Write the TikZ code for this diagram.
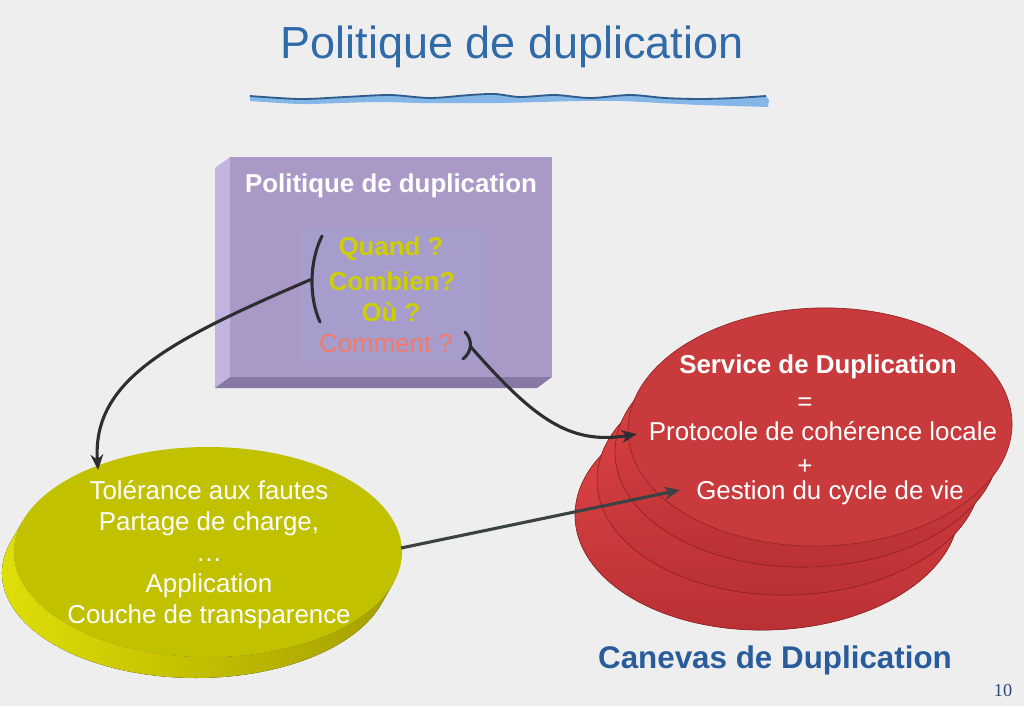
\documentclass[tikz,border=0pt]{standalone}
\usepackage{fontspec}
\setmainfont{Liberation Sans}
\newfontfamily\serifnum{Liberation Serif}
\usetikzlibrary{shapes.geometric,arrows.meta,calc}

\definecolor{bgc}{RGB}{238,238,238}
\definecolor{titleblue}{RGB}{47,107,168}
\definecolor{canblue}{RGB}{40,92,155}
\definecolor{numblue}{RGB}{40,70,120}
\definecolor{boxfront}{RGB}{170,152,198}
\definecolor{boxleft}{RGB}{194,180,224}
\definecolor{boxbottom}{RGB}{135,120,165}
\definecolor{boxinner}{RGB}{166,157,204}
\definecolor{qyellow}{RGB}{206,206,0}
\definecolor{qsalmon}{RGB}{242,122,102}
\definecolor{ytop}{RGB}{193,193,0}
\definecolor{ylight}{RGB}{226,226,10}
\definecolor{ymid}{RGB}{196,192,0}
\definecolor{ydark}{RGB}{165,160,0}
\definecolor{rtop}{RGB}{200,58,60}
\definecolor{rlight}{RGB}{230,72,72}
\definecolor{rdark}{RGB}{185,48,52}
\definecolor{redge}{RGB}{150,38,40}
\definecolor{arrowc}{RGB}{45,45,50}
\definecolor{arrowd}{RGB}{58,66,68}
\definecolor{wavelight}{RGB}{132,182,232}
\definecolor{wavedark}{RGB}{48,92,140}

\begin{document}
\begin{tikzpicture}[x=0.025cm,y=-0.025cm,
  txt/.style={text=white, font=\fontsize{18.4}{22.2}\selectfont, align=center, inner sep=0pt},
  btxt/.style={text=white, font=\bfseries\fontsize{18.4}{22.2}\selectfont, align=center, inner sep=0pt},
  conn/.style={draw=arrowc, line width=2.2pt, -{Stealth[length=11pt,width=9pt]}},
  brack/.style={draw=arrowc, line width=2.2pt, line cap=round},
  redlayer/.style={top color=rlight, bottom color=rdark, draw=redge, line width=0.5pt}]

% background
\fill[bgc] (0,0) rectangle (1024,706);
\useasboundingbox (0,0) rectangle (1024,706);

% title
\node[text=titleblue, font=\fontsize{32}{38}\selectfont, inner sep=0pt] (title) at (512,47) {Politique de duplication};

% wavy underline
\fill[wavelight] plot[smooth] coordinates {(250,96) (300,99) (345,97) (390,95) (430,98) (470,95) (495,94) (520,97) (555,95) (590,98) (630,95) (665,98) (700,99) (735,98) (766,96)}
  -- (769,100) -- plot[smooth] coordinates {(768,107) (735,106) (700,105) (660,103) (620,101) (580,101) (540,102) (500,103) (460,103) (420,103) (380,102) (340,103) (300,104) (250,101)} -- cycle;
\draw[wavedark, line width=1.3pt] plot[smooth] coordinates {(250,96) (300,99) (345,97) (390,95) (430,98) (470,95) (495,94) (520,97) (555,95) (590,98) (630,95) (665,98) (700,99) (735,98) (766,96)};

% purple box
\fill[boxleft] (230,157) -- (215,168) -- (215,388) -- (230,377) -- cycle;
\fill[boxbottom] (230,377) -- (215,388) -- (537,388) -- (552,377) -- cycle;
\node[fill=boxfront, inner sep=0pt, minimum width=8.05cm, minimum height=5.5cm, anchor=north west] (box) at (230,157) {};
\fill[boxinner] (300,228) rectangle (487,362);

\node[btxt] (ptitle) at (391,186) {Politique de duplication};
\node[btxt, text=qyellow] (q1) at (391,249) {Quand ?};
\node[btxt, text=qyellow] (q2) at (392,281) {Combien?};
\node[btxt, text=qyellow] (q3) at (391,312) {Où ?};
\node[txt, text=qsalmon] (q4) at (386,344) {Comment ?};

% brackets
\coordinate (lbt) at (322,236);
\coordinate (lbb) at (320,322);
\coordinate (lb) at (312,279);
\draw[brack] (lbt) .. controls (309,262) and (309,298) .. (lbb);
\coordinate (rbt) at (465,332);
\coordinate (rbb) at (463,359);
\coordinate (rb) at (470,346);
\draw[brack] (rbt) .. controls (473,340) and (472,352) .. (rbb);

% yellow disc (side = hull of the two ellipses)
\fill[left color=ylight, right color=ydark, middle color=ymid]
  (393.3,583.0) -- (381.3,604.0)
  arc[start angle=17.19, end angle=197.19, x radius=194, y radius=105]
  -- (22.7,521.0)
  arc[start angle=197.19, end angle=17.19, x radius=194, y radius=105] -- cycle;
\node[ellipse, fill=ytop, inner sep=0pt, minimum width=9.7cm, minimum height=5.25cm] (app) at (208,552) {};
\node[txt, font=\fontsize{18.4}{22}\selectfont] (apptxt) at (209,555) {Tolérance aux fautes\\Partage de charge,\\…\\Application\\Couche de transparence};

% red stack
\fill[redlayer, rotate around={1.5:(767,512)}] (767,512) ellipse [x radius=192, y radius=118];
\fill[redlayer, rotate around={1.5:(789,477)}] (789,477) ellipse [x radius=192, y radius=118];
\fill[redlayer, rotate around={1.5:(807,449)}] (807,449) ellipse [x radius=192, y radius=118];
\node[ellipse, fill=rtop, draw=redge, line width=0.5pt, inner sep=0pt, minimum width=9.6cm, minimum height=5.95cm, rotate=1.5] (svc) at (820,427) {};

\node[btxt] (s1) at (818,367) {Service de Duplication};
\node[txt] (s2) at (805,404) {=};
\node[txt] (s3) at (823,431) {Protocole de cohérence locale};
\node[txt] (s4) at (805,467) {+};
\node[txt] (s5) at (830,493) {Gestion du cycle de vie};

% bottom labels
\node[text=canblue, font=\bfseries\fontsize{22.3}{26}\selectfont, inner sep=0pt] (canevas) at (775,660) {Canevas de Duplication};
\node[text=numblue, font=\serifnum\fontsize{13}{15}\selectfont, inner sep=0pt] (pnum) at (1003,690) {10};

% connectors
\coordinate (a1end) at (98,470);
\coordinate (a2end) at (637,434);
\coordinate (a3start) at (401,548);
\coordinate (a3end) at (680,490);
\draw[conn] (lb) .. controls (170,340) and (92,380) .. (a1end);
\draw[conn] (rb) .. controls (535,420) and (570,445) .. (a2end);
\draw[conn, draw=arrowd] (a3start) -- (a3end);

\end{tikzpicture}
\end{document}
